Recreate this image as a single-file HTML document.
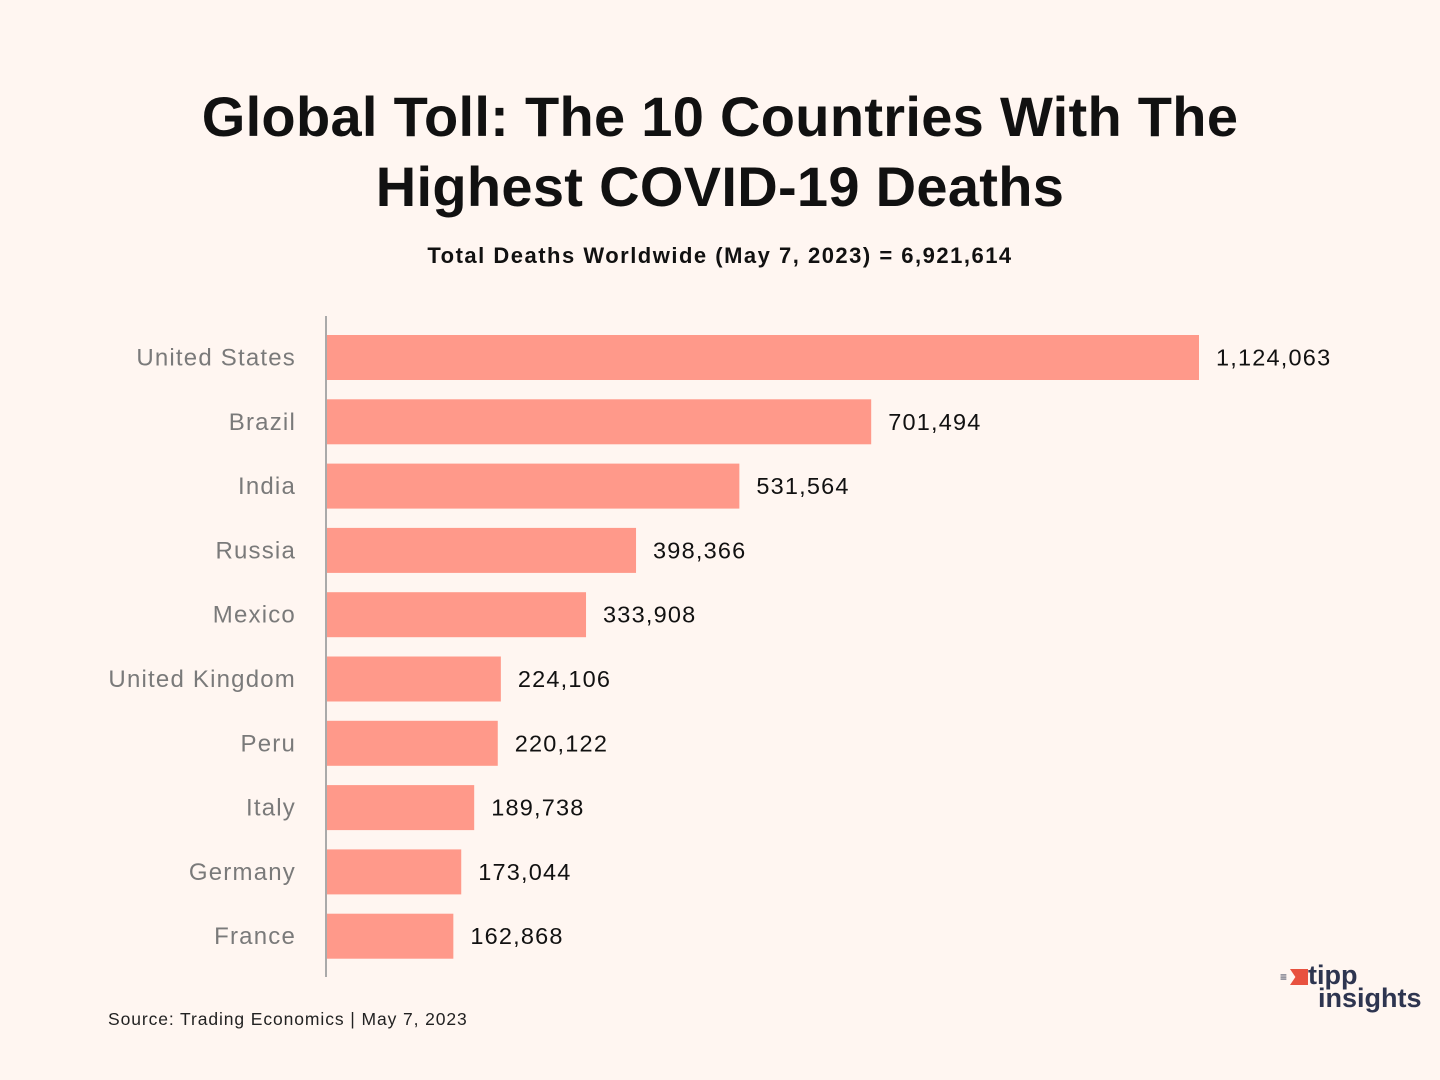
<!DOCTYPE html>
<html><head><meta charset="utf-8"><style>
body{margin:0;width:1440px;height:1080px;background:#fff6f1;font-family:"Liberation Sans",sans-serif;position:relative;overflow:hidden}
.t{position:absolute;left:0;width:1440px;text-align:center;font-weight:bold;color:#111}
</style></head><body>
<div class="t" style="top:82px;font-size:56px;line-height:70px;letter-spacing:0.3px">Global Toll: The 10 Countries With The<br>Highest COVID-19 Deaths</div>
<div class="t" style="top:243px;font-size:22px;letter-spacing:1.5px">Total Deaths Worldwide (May 7, 2023) = 6,921,614</div>
<svg id="chart" width="1440" height="1080" style="position:absolute;left:0;top:0"></svg>
<div style="position:absolute;left:108px;top:1009px;font-size:17.5px;letter-spacing:0.9px;color:#222">Source: Trading Economics | May 7, 2023</div>
<div style="position:absolute;left:1280px;top:964px;width:145px;height:50px;color:#2e3550;font-weight:bold">
<div style="position:absolute;left:0;top:6px;font-size:12px;color:#2e3550">≡</div>
<div style="position:absolute;left:10px;top:5px;width:18px;height:16px;background:#e8513f;clip-path:polygon(0 0,100% 0,100% 100%,0 100%,30% 50%)"></div>
<div style="position:absolute;left:28px;top:-4px;font-size:27px;line-height:30px">tipp</div>
<div style="position:absolute;left:38px;top:19px;font-size:27px;line-height:30px">insights</div>
</div>
<script>
const categories=["United States","Brazil","India","Russia","Mexico","United Kingdom","Peru","Italy","Germany","France"];
const deaths=[1124063,701494,531564,398366,333908,224106,220122,189738,173044,162868];
const labels=["1,124,063","701,494","531,564","398,366","333,908","224,106","220,122","189,738","173,044","162,868"];
const svg=document.getElementById('chart');
const NS='http://www.w3.org/2000/svg';
const x0=327,xScale=v=>x0+v*872/1124063;
const yC=i=>357.5+i*64.3, bh=45;
const ax=document.createElementNS(NS,'line');
ax.setAttribute('x1',326);ax.setAttribute('x2',326);ax.setAttribute('y1',316);ax.setAttribute('y2',977);
ax.setAttribute('stroke','#aaa');ax.setAttribute('stroke-width','2');


svg.appendChild(ax);
categories.forEach((c,i)=>{
 const r=document.createElementNS(NS,'rect');
 r.setAttribute('x',x0);r.setAttribute('y',yC(i)-bh/2);r.setAttribute('width',xScale(deaths[i])-x0);r.setAttribute('height',bh);r.setAttribute('fill','#ff998a');
 
 
 svg.appendChild(r);
 const t=document.createElementNS(NS,'text');
 t.setAttribute('x',296);t.setAttribute('y',yC(i)+8);t.setAttribute('text-anchor','end');t.setAttribute('font-size','24');t.setAttribute('letter-spacing','1.2');t.setAttribute('fill','#7a7a7a');t.textContent=c;
 
 
 svg.appendChild(t);
 const v=document.createElementNS(NS,'text');
 v.setAttribute('x',xScale(deaths[i])+17);v.setAttribute('y',yC(i)+8);v.setAttribute('font-size','23.5');v.setAttribute('letter-spacing','1.2');v.setAttribute('fill','#111');v.textContent=labels[i];
 
 
 svg.appendChild(v);
});
</script>
</body></html>
